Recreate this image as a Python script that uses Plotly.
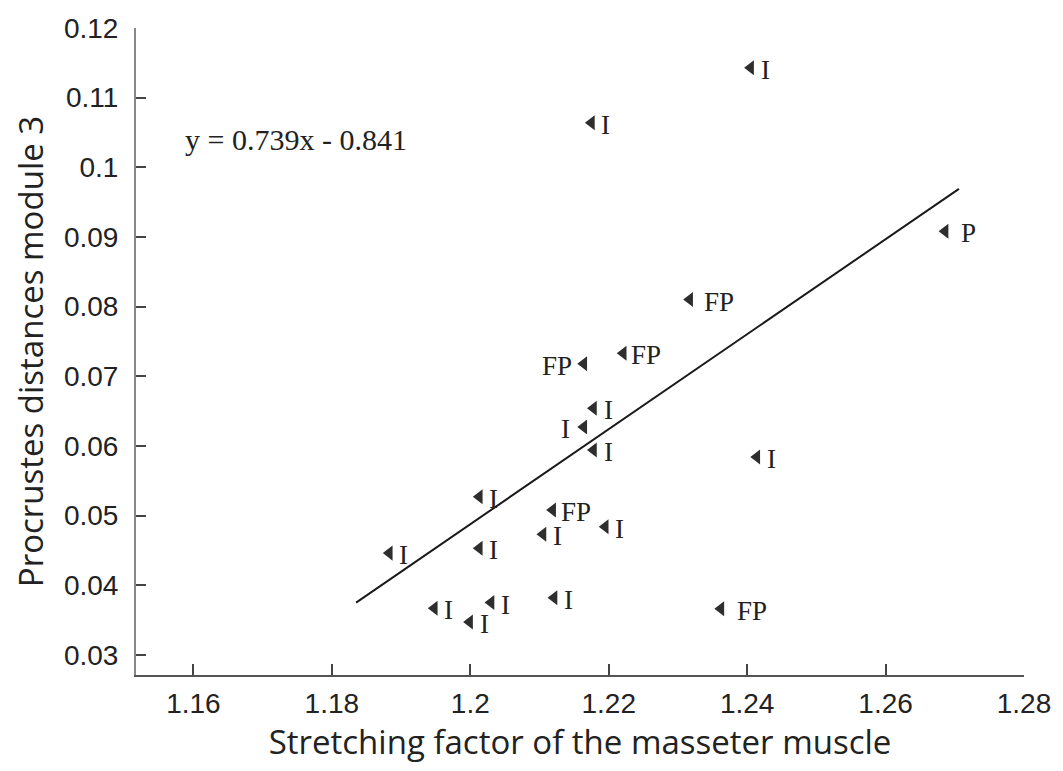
import plotly.graph_objects as go

# ---- data ----
stretch = [1.2178, 1.2164, 1.2178, 1.2013, 1.2119, 1.2195, 1.2105, 1.1883, 1.2013,
           1.1948, 1.2030, 1.1999, 1.2121, 1.2317, 1.2221, 1.2164, 1.2414, 1.2405,
           1.2686, 1.2175, 1.2362]
procrustes = [0.0654, 0.0627, 0.0594, 0.0527, 0.0508, 0.0484, 0.0473, 0.0446, 0.0453,
              0.0367, 0.0375, 0.0347, 0.0382, 0.0810, 0.0733, 0.0718, 0.0584, 0.1143,
              0.0908, 0.1064, 0.0366]
labels = ["I", "I", "I", "I", "FP", "I", "I", "I", "I",
          "I", "I", "I", "I", "FP", "FP", "FP", "I", "I",
          "P", "I", "FP"]
label_side = ["right", "left", "right", "right", "right", "right", "right", "right", "right",
              "right", "right", "right", "right", "right", "right", "left", "right", "right",
              "right", "right", "right"]
label_gap = [8, 12, 8, 8, 6, 8, 8, 8, 8,
             8, 8, 8, 8, 12, 6, 10, 8, 8,
             14, 8, 14]

fit_x = [1.1835, 1.2706]
fit_y = [0.0375, 0.0969]
equation = "y = 0.739x - 0.841"

x_ticks = [1.16, 1.18, 1.20, 1.22, 1.24, 1.26, 1.28]
x_ticktext = ["1.16", "1.18", "1.2", "1.22", "1.24", "1.26", "1.28"]
y_ticks = [0.03, 0.04, 0.05, 0.06, 0.07, 0.08, 0.09, 0.10, 0.11, 0.12]
y_ticktext = ["0.03", "0.04", "0.05", "0.06", "0.07", "0.08", "0.09", "0.1", "0.11", "0.12"]

fig = go.Figure()

fig.add_trace(go.Scatter(
    x=fit_x, y=fit_y, mode="lines",
    line=dict(color="#1a1a1a", width=2), showlegend=False, hoverinfo="skip"))

fig.add_trace(go.Scatter(
    x=stretch, y=procrustes, mode="markers",
    marker=dict(symbol="triangle-left", size=13, color="#2e2e2e", line=dict(width=0)),
    showlegend=False))

serif = "Liberation Serif, Times New Roman, serif"
for xv, yv, lab, side, gap in zip(stretch, procrustes, labels, label_side, label_gap):
    fig.add_annotation(
        x=xv, y=yv, text=lab, showarrow=False,
        xanchor="left" if side == "right" else "right",
        xshift=gap if side == "right" else -gap, yshift=-2,
        font=dict(family=serif, size=27, color="#222222"))

fig.add_annotation(
    x=1.1585, y=0.1040, text=equation, showarrow=False,
    xanchor="left", yanchor="middle",
    font=dict(family=serif, size=30, color="#222222"))

tickfont = dict(family="Liberation Sans, Arial, sans-serif", size=28, color="#222222")
titlefont = dict(family="Open Sans, Noto Sans, sans-serif", size=33, color="#222222")

fig.update_layout(
    width=1063, height=771,
    margin=dict(l=136, r=30, t=28, b=96),
    paper_bgcolor="white", plot_bgcolor="white",
    xaxis=dict(
        range=[1.1517, 1.28], tickmode="array", tickvals=x_ticks, ticktext=x_ticktext,
        ticks="inside", ticklen=11, tickwidth=1.5, tickcolor="#444444",
        showline=True, linecolor="#555555", linewidth=2, showgrid=False, zeroline=False,
        tickfont=tickfont, ticklabelstandoff=2,
        title=dict(text="Stretching factor of the masseter muscle", font=titlefont, standoff=6)),
    yaxis=dict(
        range=[0.0271, 0.12], tickmode="array", tickvals=y_ticks, ticktext=y_ticktext,
        ticks="inside", ticklen=10, tickwidth=1.5, tickcolor="#444444",
        showline=True, linecolor="#888888", linewidth=2, showgrid=False, zeroline=False,
        tickfont=tickfont, ticklabelstandoff=10,
        title=dict(text="Procrustes distances module 3", font=titlefont, standoff=10)),
)

fig.write_html("out.html")
